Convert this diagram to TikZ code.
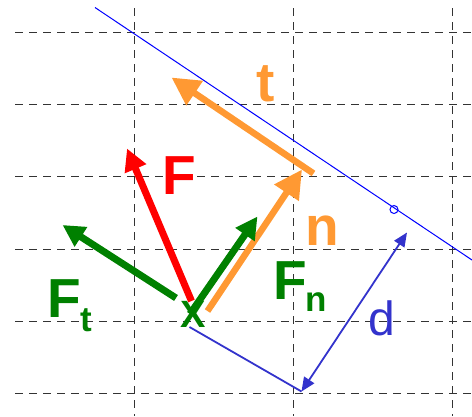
\documentclass[tikz,border=0pt]{standalone}
\usepackage{fontspec}
\setmainfont{Liberation Sans}
\usetikzlibrary{arrows.meta}
\definecolor{forange}{HTML}{FF9933}
\definecolor{fgreen}{HTML}{008000}
\definecolor{fred}{HTML}{FF0000}
\definecolor{dblue}{HTML}{3333CC}
\definecolor{lblue}{HTML}{0000FF}
\definecolor{gridgray}{HTML}{333333}
\begin{document}
\begin{tikzpicture}[x=1pt,y=-1pt,
  gridline/.style={gridgray,line width=1pt,dash pattern=on 8pt off 6pt},
  forcevec/.style={line width=7pt,-{Triangle[length=22pt,width=22pt]}},
  unitvec/.style={forange,line width=6.5pt,-{Triangle[length=28pt,width=28pt]}},
  biglbl/.style={inner sep=0pt,anchor=base,font=\fontsize{55}{55}\selectfont\bfseries},
  sublbl/.style={inner sep=0pt,anchor=base west,font=\fontsize{55}{55}\selectfont\bfseries},
  dimline/.style={dblue,line width=1.8pt},
  dimarrow/.style={dblue,line width=1.8pt,{Triangle[length=14pt,width=12pt]}-{Triangle[length=14pt,width=12pt]}}]
\useasboundingbox (0,0) rectangle (472,416);
% grid
\foreach \y in {32.5,104.7,176.9,249.1,321.3,393.5}
  \draw[gridline] (15,\y) -- (472,\y);
\foreach \x in {134.5,293.5,452.5}
  \draw[gridline] (\x,8) -- (\x,416);
% coordinates
\coordinate (L1) at (95,7.5);
\coordinate (L2) at (472,260);
\coordinate (C) at (394,209.5);
\coordinate (Ftail) at (191.5,301);
\coordinate (Ftip) at (127,148.5);
\coordinate (Fttail) at (176,298);
\coordinate (Fttip) at (62.5,225);
\coordinate (Fntail) at (190,314);
\coordinate (Fntip) at (257.5,216.5);
\coordinate (ntail) at (207.5,311);
\coordinate (ntip) at (302,169.5);
\coordinate (ttail) at (313.5,173.5);
\coordinate (ttip) at (171.5,77.5);
\coordinate (P1) at (189.5,327);
\coordinate (P2) at (301.5,391.5);
\coordinate (P3) at (407,232.5);
% blue line and point
\draw[lblue,line width=1pt] (L1) -- (L2);
\draw[lblue,line width=1pt] (C) circle (4);
% unit vectors
\draw[unitvec] (ttail) -- (ttip);
\draw[unitvec] (ntail) -- (ntip);
% forces
\draw[forcevec,fgreen] (Fttail) -- (Fttip);
\draw[forcevec,fgreen] (Fntail) -- (Fntip);
\draw[forcevec,fred] (Ftail) -- (Ftip);
% distance
\draw[dimline] (P1) -- (P2);
\draw[dimarrow] (P2) -- (P3);
% labels
\node[biglbl,fred] (Flbl) at (179,194.3) {F};
\node[biglbl,forange] (tlbl) at (266,101.5) {t};
\node[biglbl,forange] (nlbl) at (322.5,245) {n};
\node[sublbl,fgreen] (Ftlbl) at (47,317) {F\raisebox{-14pt}{\fontsize{35}{35}\selectfont t}};
\node[sublbl,fgreen] (Fnlbl) at (273.7,299) {F\hspace{-1.5pt}\raisebox{-12.7pt}{\fontsize{35}{35}\selectfont n}};
\node[inner sep=0pt,anchor=base,fgreen,font=\fontsize{38}{38}\selectfont\bfseries] (X) at (193.5,327) {X};
\node[inner sep=0pt,anchor=base,dblue,font=\fontsize{48}{48}\selectfont] (dlbl) at (382,335.5) {d};
\end{tikzpicture}
\end{document}
